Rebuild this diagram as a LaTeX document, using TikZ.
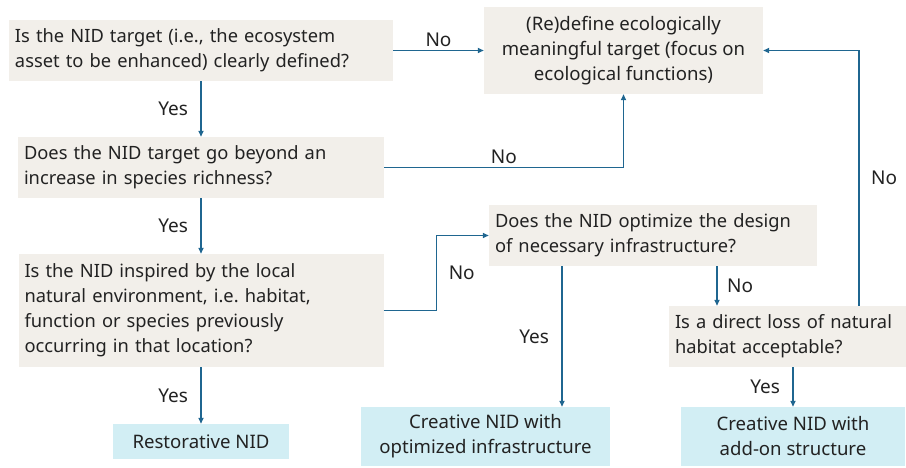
\documentclass[tikz,border=0pt]{standalone}
\usepackage{fontspec}
\setmainfont{Noto Sans}
\frenchspacing
\hyphenpenalty=10000
\usetikzlibrary{arrows.meta}
\definecolor{qfill}{HTML}{F2EFEA}
\definecolor{afill}{HTML}{D2EEF4}
\definecolor{lnk}{HTML}{1F6690}
\definecolor{txt}{HTML}{222222}
\tikzset{
  question/.style={fill=qfill, text=txt, align=left, inner xsep=6pt, inner ysep=0pt,
    font=\fontsize{18.3}{25}\selectfont, anchor=center},
  answer/.style={fill=afill, text=txt, align=center, inner xsep=4pt, inner ysep=0pt,
    font=\fontsize{18.6}{25}\selectfont, anchor=center},
  arr/.style={draw=lnk, line width=1.5pt, -{Triangle[length=6pt,width=5pt]}},
  lab/.style={text=txt, font=\fontsize{19}{22}\selectfont}
}
\begin{document}
\begin{tikzpicture}[x=1pt, y=-1pt]
      \useasboundingbox (0,0) rectangle (906,468);
      \draw
        (201,50.5) node[question, minimum width=384pt, minimum height=61pt, text width=372pt] (q1)
          {Is the NID target (i.e., the ecosystem\\asset to be enhanced) clearly defined?}
        (623.5,50.5) node[answer, fill=qfill, minimum width=279pt, minimum height=87pt] (target)
          {(Re)define ecologically\\meaningful target (focus on\\ecological functions)}
        (201,167.5) node[question, minimum width=366pt, minimum height=61pt, text width=354pt] (q2)
          {Does the NID target go beyond an\\increase in species richness?}
        (201,310.5) node[question, minimum width=365pt, minimum height=113pt, text width=353pt] (q3)
          {Is the NID inspired by the local\\natural environment, i.e. habitat,\\function or species previously\\occurring in that location?}
        (201,441.5) node[answer, minimum width=176pt, minimum height=35pt] (restore)
          {Restorative NID}
        (653,235.5) node[question, minimum width=328pt, minimum height=61pt, text width=316pt] (q4)
          {Does the NID optimize the design\\of necessary infrastructure?}
        (787.5,336.5) node[question, minimum width=237pt, minimum height=61pt, text width=225pt] (q5)
          {Is a direct loss of natural\\habitat acceptable?}
        (485.5,436.5) node[answer, minimum width=249pt, minimum height=59pt] (optinfra)
          {Creative NID with\\optimized infrastructure}
        (793,436.5) node[answer, minimum width=224pt, minimum height=59pt] (addon)
          {Creative NID with\\add-on structure};
      \begin{scope}[arr]
        \draw (q1.east) -- node[lab, above] {No} (target.west);
        \draw (q1.south) -- node[lab, left=9pt] {Yes} (q2.north);
        \draw (q2.east) -| node[lab, above, pos=0.25] {No} (target.south);
        \draw (q2.south) -- node[lab, left=9pt] {Yes} (q3.north);
        \draw (q3.east) -- ++(53,0) |- node[lab, right=8pt, pos=0.25] {No} (q4.west);
        \draw (q3.south) -- node[lab, left=9pt] {Yes} (restore.north);
        \draw ([xshift=-91pt]q4.south) -- node[lab, left=9pt] {Yes} ([xshift=-91pt]q4.south |- optinfra.north);
        \draw ([xshift=64pt]q4.south) -- node[lab, right=6pt] {No} ([xshift=64pt]q4.south |- q5.north);
        \draw ([xshift=71.5pt]q5.north) |- node[lab, right=8pt, pos=0.25] {No} (target.east);
        \draw (q5.south -| addon.north) -- node[lab, left=9pt] {Yes} (addon.north);
      \end{scope}
    \end{tikzpicture}
\end{document}
